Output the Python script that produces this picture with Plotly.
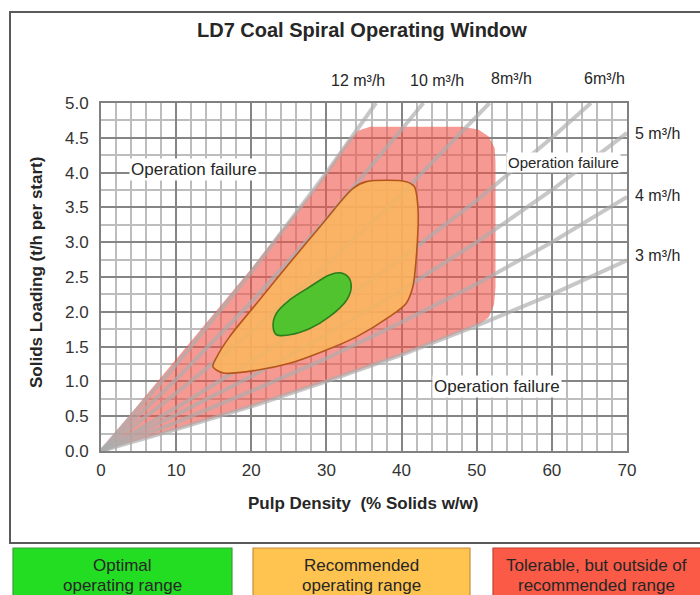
import plotly.graph_objects as go

W, H = 700, 595

# ---------------- data ----------------
x_ticks = [0, 10, 20, 30, 40, 50, 60, 70]
y_ticks = [0.0, 0.5, 1.0, 1.5, 2.0, 2.5, 3.0, 3.5, 4.0, 4.5, 5.0]

# constant pulp-flow lines (Pulp density %, Solids loading t/h)
flow_names = ["12 m³/h", "10 m³/h", "8m³/h", "6m³/h", "5 m³/h", "4 m³/h", "3 m³/h"]
flow_x = [
    [0, 10, 20, 30, 36.6],
    [0, 10, 20, 30, 40, 42.9],
    [0, 10, 20, 30, 40, 50, 51.7],
    [0, 10, 20, 30, 40, 50, 60, 65.2],
    [0, 10, 20, 30, 40, 50, 60, 70],
    [0, 10, 20, 30, 40, 50, 60, 70],
    [0, 10, 20, 30, 40, 50, 60, 70],
]
flow_y = [
    [0, 1.24, 2.57, 4.00, 5.00],
    [0, 1.03, 2.14, 3.33, 4.62, 5.00],
    [0, 0.83, 1.71, 2.67, 3.69, 4.80, 5.00],
    [0, 0.62, 1.29, 2.00, 2.77, 3.60, 4.50, 5.00],
    [0, 0.52, 1.07, 1.67, 2.31, 3.00, 3.75, 4.57],
    [0, 0.41, 0.86, 1.33, 1.85, 2.40, 3.00, 3.65],
    [0, 0.31, 0.64, 1.00, 1.38, 1.80, 2.25, 2.74],
]

# tolerable range (red) outline
tol_x = [0, 10, 20, 28.5, 31.3, 33.0, 34.2, 35.8, 48.0, 50.2, 51.6, 52.4, 52.5,
         52.5, 52.3, 51.6, 50.4, 40, 30, 20, 10, 0]
tol_y = [0.02, 1.32, 2.62, 3.78, 4.22, 4.47, 4.60, 4.66, 4.66, 4.62, 4.52, 4.35, 4.15,
         2.35, 2.10, 1.92, 1.82, 1.38, 1.00, 0.64, 0.31, 0.0]

# recommended range (orange) outline
rec_x = [14.9, 16.3, 20.7, 25.1, 29.5, 34.0, 38.4, 40.6, 41.5, 42.0, 42.2, 41.7,
         40.6, 35.3, 33.5, 29.5, 25.1, 20.7, 17.1, 15.4, 14.9]
rec_y = [1.21, 1.12, 1.16, 1.26, 1.43, 1.64, 1.93, 2.12, 2.36, 2.84, 3.46, 3.80,
         3.87, 3.87, 3.77, 3.27, 2.70, 2.12, 1.64, 1.35, 1.21]

# optimal range (green) outline
opt_x = [22.9, 23.35, 25.1, 27.8, 30.4, 31.8, 32.9, 33.3, 32.7, 30.4, 27.8, 25.1, 23.35, 22.9]
opt_y = [1.79, 1.98, 2.17, 2.36, 2.53, 2.56, 2.50, 2.36, 2.17, 1.93, 1.76, 1.67, 1.67, 1.79]

# ---------------- figure ----------------
FONT = "Liberation Sans, Arial, sans-serif"
TXT = "#262626"


def px(x):
    return x / W


def py(y):
    return 1 - y / H


fig = go.Figure()

fig.add_trace(go.Scatter(x=tol_x, y=tol_y, mode="lines", fill="toself",
                         fillcolor="rgba(240,85,75,0.6)", line=dict(width=0),
                         hoverinfo="skip", showlegend=False))

for name, xs, ys in zip(flow_names, flow_x, flow_y):
    fig.add_trace(go.Scatter(x=xs, y=ys, mode="lines", name=name,
                             line=dict(color="rgba(172,172,172,0.68)", width=4),
                             hoverinfo="skip", showlegend=False))

fig.add_trace(go.Scatter(x=rec_x, y=rec_y, mode="lines", fill="toself",
                         fillcolor="rgba(250,182,92,0.86)",
                         line=dict(color="#b4561c", width=1.6, shape="spline", smoothing=0.8),
                         hoverinfo="skip", showlegend=False))

fig.add_trace(go.Scatter(x=opt_x, y=opt_y, mode="lines", fill="toself",
                         fillcolor="rgba(72,196,44,0.95)",
                         line=dict(color="#2e7d1c", width=1.6, shape="spline", smoothing=1.0),
                         hoverinfo="skip", showlegend=False))

annotations = []


def page_text(text, x, y, size, bold=False, angle=0):
    annotations.append(dict(text=f"<b>{text}</b>" if bold else text, x=px(x), y=py(y),
                            xref="paper", yref="paper", xanchor="center", yanchor="middle",
                            showarrow=False, textangle=angle,
                            font=dict(family=FONT, size=size, color=TXT)))


# title and axis titles
page_text("LD7 Coal Spiral Operating Window", 362, 30, 20, bold=True)
page_text("Pulp Density \u00a0(% Solids w/w)", 363, 503, 17, bold=True)
page_text("Solids Loading (t/h per start)", 37, 273, 17, bold=True, angle=-90)

# flow labels
flow_label_pos = [(358, 81), (437, 81), (511, 79), (604, 79), (657, 133), (657, 196), (657, 255)]
for name, (lx, ly) in zip(flow_names, flow_label_pos):
    page_text(name, lx, ly, 16)

# operation failure labels
fail_pos = [(12.4, 4.04, 17), (61.5, 4.15, 15), (52.7, 0.93, 17)]
for fx, fy, fs in fail_pos:
    annotations.append(dict(text="Operation failure", x=fx, y=fy, xref="x", yref="y",
                            xanchor="center", yanchor="middle",
                            showarrow=False, bgcolor="white", borderpad=1,
                            font=dict(family=FONT, size=fs, color=TXT)))

shapes = []
# outer frame: open on the right, where it runs off the picture
frame_path = f"M {px(720)},{py(12)} L {px(10)},{py(12)} L {px(10)},{py(543)} L {px(720)},{py(543)}"
shapes.append(dict(type="path", xref="paper", yref="paper", path=frame_path,
                   line=dict(color="#5a5a5a", width=2), layer="below"))

# legend boxes (run off the bottom edge)
legend_boxes = [
    (13, 232, "#22dd22", "#3c9a3c", ["Optimal", "operating range"]),
    (253, 470, "#ffc350", "#c98c3c", ["Recommended", "operating range"]),
    (493, 720, "#fa5a46", "#c04030", ["Tolerable, but outside of", "recommended range"]),
]
for x0, x1, fc, lc, lines in legend_boxes:
    shapes.append(dict(type="rect", xref="paper", yref="paper", x0=px(x0), y0=py(610),
                       x1=px(x1), y1=py(548), fillcolor=fc, line=dict(color=lc, width=1.2)))
    for i, t in enumerate(lines):
        page_text(t, (x0 + min(x1, 700)) / 2, 565 + 20 * i, 17)

fig.update_layout(
    width=W, height=H,
    margin=dict(l=0, r=0, t=0, b=0),
    paper_bgcolor="white", plot_bgcolor="white",
    annotations=annotations, shapes=shapes,
    hovermode=False,
    xaxis=dict(domain=[px(101), px(627)], range=[0, 70], tickvals=x_ticks,
               ticktext=[str(v) for v in x_ticks], automargin=False,
               showgrid=True, gridcolor="#858585", gridwidth=2, zeroline=False,
               minor=dict(dtick=2, showgrid=True, gridcolor="#bdbdbd", gridwidth=1.5),
               showline=True, linecolor="#808080", linewidth=2, mirror=True,
               ticks="", ticklabelstandoff=3,
               tickfont=dict(family=FONT, size=17, color="#333333")),
    yaxis=dict(domain=[py(451), py(103)], range=[0, 5], tickvals=y_ticks,
               ticktext=[f"{v:.1f}" for v in y_ticks], automargin=False,
               showgrid=True, gridcolor="#858585", gridwidth=2, zeroline=False,
               minor=dict(dtick=0.25, showgrid=True, gridcolor="#bdbdbd", gridwidth=1.5),
               showline=True, linecolor="#808080", linewidth=2, mirror=True,
               ticks="", ticklabelstandoff=7,
               tickfont=dict(family=FONT, size=17, color="#333333")),
)

# remove the default 8px page margin so the 700x595 figure fills the window exactly
fig.write_html("out.html", config={"displayModeBar": False},
               post_script="document.body.style.margin='0';document.body.style.overflow='hidden';")
